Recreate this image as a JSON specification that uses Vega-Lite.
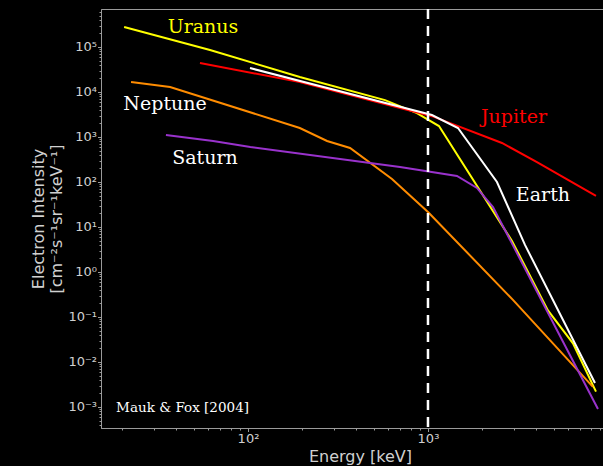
{
  "$schema": "https://vega.github.io/schema/vega-lite/v6.json",
  "width": 503,
  "height": 419,
  "autosize": {"type": "none"},
  "padding": {"left": 101, "top": 9, "right": 0, "bottom": 38},
  "background": "#000000",
  "config": {
    "view": {"stroke": "#9a9a9a", "strokeWidth": 1},
    "axis": {"grid": false}
  },
  "datasets": {
    "spectra": [
      {"planet": "Uranus", "energy": 20.5, "intensity": 278000},
      {"planet": "Uranus", "energy": 61.5, "intensity": 86000},
      {"planet": "Uranus", "energy": 194, "intensity": 21500},
      {"planet": "Uranus", "energy": 577, "intensity": 6600},
      {"planet": "Uranus", "energy": 868, "intensity": 3400},
      {"planet": "Uranus", "energy": 1151, "intensity": 1750},
      {"planet": "Uranus", "energy": 2929, "intensity": 4.9},
      {"planet": "Uranus", "energy": 4640, "intensity": 0.14},
      {"planet": "Uranus", "energy": 6390, "intensity": 0.026},
      {"planet": "Uranus", "energy": 8580, "intensity": 0.0022},
      {"planet": "Neptune", "energy": 22.4, "intensity": 16700},
      {"planet": "Neptune", "energy": 36.9, "intensity": 12900},
      {"planet": "Neptune", "energy": 194, "intensity": 1585},
      {"planet": "Neptune", "energy": 275, "intensity": 815},
      {"planet": "Neptune", "energy": 369, "intensity": 570},
      {"planet": "Neptune", "energy": 631, "intensity": 117},
      {"planet": "Neptune", "energy": 1000, "intensity": 21.5},
      {"planet": "Neptune", "energy": 2965, "intensity": 0.24},
      {"planet": "Neptune", "energy": 8250, "intensity": 0.0028},
      {"planet": "Saturn", "energy": 35, "intensity": 1108},
      {"planet": "Saturn", "energy": 64, "intensity": 815},
      {"planet": "Saturn", "energy": 103, "intensity": 600},
      {"planet": "Saturn", "energy": 699, "intensity": 215},
      {"planet": "Saturn", "energy": 1449, "intensity": 136},
      {"planet": "Saturn", "energy": 1871, "intensity": 73.6},
      {"planet": "Saturn", "energy": 2297, "intensity": 27.8},
      {"planet": "Saturn", "energy": 8800, "intensity": 0.0009},
      {"planet": "Jupiter", "energy": 54.1, "intensity": 44000},
      {"planet": "Jupiter", "energy": 194, "intensity": 16700},
      {"planet": "Jupiter", "energy": 1052, "intensity": 2900},
      {"planet": "Jupiter", "energy": 2577, "intensity": 736},
      {"planet": "Jupiter", "energy": 4032, "intensity": 278},
      {"planet": "Jupiter", "energy": 8580, "intensity": 49},
      {"planet": "Earth", "energy": 102.6, "intensity": 34000},
      {"planet": "Earth", "energy": 1052, "intensity": 3080},
      {"planet": "Earth", "energy": 1468, "intensity": 1585},
      {"planet": "Earth", "energy": 2417, "intensity": 100},
      {"planet": "Earth", "energy": 3459, "intensity": 4.0},
      {"planet": "Earth", "energy": 8470, "intensity": 0.0034}
    ],
    "labels": [
      {"label": "Uranus", "energy": 56.2, "intensity": 278000},
      {"label": "Neptune", "energy": 34.6, "intensity": 5410},
      {"label": "Saturn", "energy": 57.7, "intensity": 341},
      {"label": "Jupiter", "energy": 3007, "intensity": 2783},
      {"label": "Earth", "energy": 4353, "intensity": 51.4}
    ],
    "cite": [
      {"label": "Mauk & Fox [2004]", "energy": 18.5, "intensity": 0.00095}
    ],
    "marker": [
      {"energy": 1000}
    ]
  },
  "encoding": {
    "x": {
      "field": "energy",
      "type": "quantitative",
      "scale": {"type": "log", "domain": [15.25, 9506], "nice": false},
      "axis": {
        "title": "Energy [keV]",
        "titleX": 259,
        "titleFont": "DejaVu Sans",
        "titleFontSize": 16,
        "titleFontWeight": "normal",
        "titleColor": "#d0d0d0",
        "titlePadding": 3,
        "values": [20, 30, 40, 50, 60, 70, 80, 90, 100, 200, 300, 400, 500, 600, 700, 800, 900, 1000, 2000, 3000, 4000, 5000, 6000, 7000, 8000, 9000],
        "labelExpr": "abs(log(datum.value)/LN10 - round(log(datum.value)/LN10)) < 0.01 ? '10' + replace(replace(replace(replace(replace(replace(replace(replace(replace(replace(replace(toString(round(log(datum.value)/LN10)),'-','⁻'),'0','⁰'),'1','¹'),'2','²'),'3','³'),'4','⁴'),'5','⁵'),'6','⁶'),'7','⁷'),'8','⁸'),'9','⁹') : ''",
        "labelOverlap": false,
        "labelFlush": false,
        "labelFont": "DejaVu Sans",
        "labelFontSize": 13,
        "labelColor": "#d0d0d0",
        "labelPadding": 1,
        "tickSize": {"condition": {"test": "abs(log(datum.value)/LN10 - round(log(datum.value)/LN10)) < 0.01", "value": 3.5}, "value": 2},
        "tickColor": "#9a9a9a",
        "tickWidth": 1,
        "domainColor": "#9a9a9a"
      }
    }
  },
  "layer": [
    {
      "data": {"name": "spectra"},
      "mark": {"type": "line", "strokeWidth": 2},
      "encoding": {
        "y": {
          "field": "intensity",
          "type": "quantitative",
          "scale": {"type": "log", "domain": [0.000341, 699000], "nice": false},
          "axis": {
            "title": ["Electron Intensity", "[cm⁻²s⁻¹sr⁻¹keV⁻¹]"],
            "titleFont": "DejaVu Sans",
            "titleFontSize": 16,
            "titleFontWeight": "normal",
            "titleColor": "#d0d0d0",
            "titleLineHeight": 18,
            "titlePadding": 3,
            "values": [0.0004, 0.0005, 0.0006, 0.0007, 0.0008, 0.0009, 0.001, 0.002, 0.003, 0.004, 0.005, 0.006, 0.007, 0.008, 0.009, 0.01, 0.02, 0.03, 0.04, 0.05, 0.06, 0.07, 0.08, 0.09, 0.1, 0.2, 0.3, 0.4, 0.5, 0.6, 0.7, 0.8, 0.9, 1, 2, 3, 4, 5, 6, 7, 8, 9, 10, 20, 30, 40, 50, 60, 70, 80, 90, 100, 200, 300, 400, 500, 600, 700, 800, 900, 1000, 2000, 3000, 4000, 5000, 6000, 7000, 8000, 9000, 10000, 20000, 30000, 40000, 50000, 60000, 70000, 80000, 90000, 100000, 200000, 300000, 400000, 500000, 600000],
            "labelExpr": "abs(log(datum.value)/LN10 - round(log(datum.value)/LN10)) < 0.01 ? '10' + replace(replace(replace(replace(replace(replace(replace(replace(replace(replace(replace(toString(round(log(datum.value)/LN10)),'-','⁻'),'0','⁰'),'1','¹'),'2','²'),'3','³'),'4','⁴'),'5','⁵'),'6','⁶'),'7','⁷'),'8','⁸'),'9','⁹') : ''",
            "labelOverlap": false,
            "labelFlush": false,
            "labelFont": "DejaVu Sans",
            "labelFontSize": 13,
            "labelColor": "#d0d0d0",
            "labelPadding": 1,
            "tickSize": {"condition": {"test": "abs(log(datum.value)/LN10 - round(log(datum.value)/LN10)) < 0.01", "value": 3.5}, "value": 2},
            "tickColor": "#9a9a9a",
            "tickWidth": 1,
            "domainColor": "#9a9a9a"
          }
        },
        "color": {
          "field": "planet",
          "type": "nominal",
          "scale": {
            "domain": ["Neptune", "Saturn", "Jupiter", "Earth", "Uranus"],
            "range": ["#ff8c00", "#9932cc", "#ff0000", "#ffffff", "#ffff00"]
          },
          "legend": null
        }
      }
    },
    {
      "data": {"name": "marker"},
      "mark": {"type": "rule", "color": "#ffffff", "strokeWidth": 2.5, "strokeDash": [10, 7]},
      "encoding": {}
    },
    {
      "data": {"name": "labels"},
      "mark": {"type": "text", "font": "DejaVu Serif", "fontSize": 19, "align": "center", "baseline": "middle"},
      "encoding": {
        "y": {
          "field": "intensity",
          "type": "quantitative",
          "scale": {"type": "log", "domain": [0.000341, 699000], "nice": false}
        },
        "text": {"field": "label", "type": "nominal"},
        "color": {
          "field": "label",
          "type": "nominal",
          "scale": {
            "domain": ["Uranus", "Neptune", "Saturn", "Jupiter", "Earth"],
            "range": ["#ffff00", "#ffffff", "#ffffff", "#ff0000", "#ffffff"]
          },
          "legend": null
        }
      }
    },
    {
      "data": {"name": "cite"},
      "mark": {"type": "text", "font": "DejaVu Serif", "fontSize": 13.5, "align": "left", "baseline": "middle", "color": "#ffffff"},
      "encoding": {
        "y": {
          "field": "intensity",
          "type": "quantitative",
          "scale": {"type": "log", "domain": [0.000341, 699000], "nice": false}
        },
        "text": {"field": "label", "type": "nominal"}
      }
    }
  ],
  "resolve": {"scale": {"color": "independent"}}
}
